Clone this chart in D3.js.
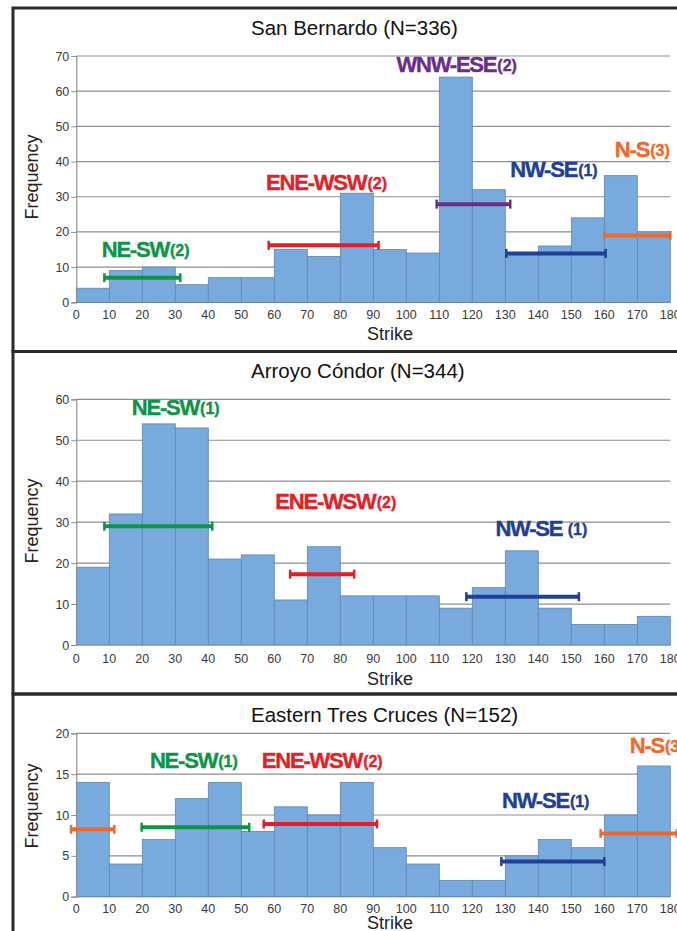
<!DOCTYPE html>
<html>
<head>
<meta charset="utf-8">
<script src="https://cdn.jsdelivr.net/npm/d3@7"></script>
<style>
  body { margin: 0; background: #fff; }
  svg { display: block; font-family: "Liberation Sans", Arial, Helvetica, sans-serif; }
</style>
</head>
<body>
<div id="chart-area"></div>
<script>
// strike bins (10 degree classes)
const binStarts = [0, 10, 20, 30, 40, 50, 60, 70, 80, 90, 100, 110, 120, 130, 140, 150, 160, 170];
const strikeTicks = [0, 10, 20, 30, 40, 50, 60, 70, 80, 90, 100, 110, 120, 130, 140, 150, 160, 170, 180];

// frequencies per bin
const sanBernardo = [4, 9, 10, 5, 7, 7, 15, 13, 31, 15, 14, 64, 32, 14, 16, 24, 36, 20];
const arroyoCondor = [19, 32, 54, 53, 21, 22, 11, 24, 12, 12, 12, 9, 14, 23, 9, 5, 5, 7];
const tresCruces = [14, 4, 7, 12, 14, 8, 11, 10, 14, 6, 4, 2, 2, 5, 7, 6, 10, 16];

// frequency tick labels
const sanBernardoTicks = [0, 10, 20, 30, 40, 50, 60, 70];
const arroyoCondorTicks = [0, 10, 20, 30, 40, 50, 60];
const tresCrucesTicks = [0, 5, 10, 15, 20];

// fracture sets: strike range, frequency level, label anchor (strike, frequency)
const sanBernardoSets = [
  { name: "NE-SW", sub: "(2)", from: 8.5, to: 31.5, freq: 7.0, lx: 7.7, ly: 13 },
  { name: "ENE-WSW", sub: "(2)", from: 58.3, to: 91.6, freq: 16.2, lx: 57.5, ly: 31.9 },
  { name: "WNW-ESE", sub: "(2)", from: 109.2, to: 131.5, freq: 27.9, lx: 97, ly: 65.5 },
  { name: "NW-SE", sub: "(1)", from: 130.3, to: 160.4, freq: 13.9, lx: 131.5, ly: 35.7 },
  { name: "N-S", sub: "(3)", from: 160, to: 180, freq: 19, lx: 163.2, ly: 41.4 }
];
const arroyoCondorSets = [
  { name: "NE-SW", sub: "(1)", from: 8.5, to: 41.2, freq: 29, lx: 16.8, ly: 56.2 },
  { name: "ENE-WSW", sub: "(2)", from: 64.8, to: 84.2, freq: 17.3, lx: 60.3, ly: 33.2 },
  { name: "NW-SE", sub: " (1)", from: 118.2, to: 152.3, freq: 11.8, lx: 127, ly: 26.7 }
];
const tresCrucesSets = [
  { name: "N-S", sub: "", from: -1.6, to: 11.5, freq: 8.25, lx: null, ly: null },
  { name: "NE-SW", sub: "(1)", from: 19.8, to: 52.4, freq: 8.5, lx: 22.3, ly: 15.7 },
  { name: "ENE-WSW", sub: "(2)", from: 56.8, to: 91.1, freq: 8.9, lx: 56.2, ly: 15.7 },
  { name: "NW-SE", sub: "(1)", from: 128.8, to: 160, freq: 4.3, lx: 129, ly: 10.8 },
  { name: "N-S", sub: "(3)", from: 158.9, to: 182, freq: 7.75, lx: 167.7, ly: 17.55 }
];

const setColors = {
  "NE-SW": "#0d9448",
  "ENE-WSW": "#e31f29",
  "WNW-ESE": "#6b2d8b",
  "NW-SE": "#213f95",
  "N-S": "#f0692c"
};

var svg = d3.select("#chart-area")
  .append("svg")
  .attr("width", 677)
  .attr("height", 931);

var x = d3.scaleLinear().domain([0, 180]).range([76.3, 670.3]);

var panels = [
  { title: "San Bernardo (N=336)", counts: sanBernardo, ticks: sanBernardoTicks, sets: sanBernardoSets,
    boxTop: 8, boxBottom: 351.5, plotTop: 56, plotBottom: 302.3, titleY: 35, tickY: 319, strikeY: 340, freqY: 177 },
  { title: "Arroyo Cóndor (N=344)", counts: arroyoCondor, ticks: arroyoCondorTicks, sets: arroyoCondorSets,
    boxTop: 351.5, boxBottom: 694, plotTop: 399.3, plotBottom: 645, titleY: 378, tickY: 663, strikeY: 685, freqY: 521 },
  { title: "Eastern Tres Cruces (N=152)", counts: tresCruces, ticks: tresCrucesTicks, sets: tresCrucesSets,
    boxTop: 694, boxBottom: 960, plotTop: 733.3, plotBottom: 896.7, titleY: 722, tickY: 913, strikeY: 929, freqY: 806 }
];

panels.forEach(p => {
  var g = svg.append("g");
  var y = d3.scaleLinear()
    .domain([0, d3.max(p.ticks)])
    .range([p.plotBottom, p.plotTop]);

  // frame
  g.append("rect")
    .attr("x", 13).attr("y", p.boxTop)
    .attr("width", 700).attr("height", p.boxBottom - p.boxTop)
    .attr("fill", "none")
    .attr("stroke", "#2a2a2a")
    .attr("stroke-width", 3);

  // gridlines
  g.selectAll(".grid")
    .data(p.ticks)
    .enter()
    .append("line")
      .attr("x1", x(0)).attr("x2", x(180))
      .attr("y1", d => y(d)).attr("y2", d => y(d))
      .attr("stroke", "#8f8f8f")
      .attr("stroke-width", 1.2);

  // bars
  g.selectAll(".bar")
    .data(p.counts)
    .enter()
    .append("rect")
      .attr("x", (d, i) => x(binStarts[i]))
      .attr("width", (d, i) => x(binStarts[i] + 10) - x(binStarts[i]))
      .attr("y", d => y(d))
      .attr("height", d => y(0) - y(d))
      .attr("fill", "#79aadd")
      .attr("stroke", "#5f86b0")
      .attr("stroke-width", 0.8);

  // y axis
  var yAxis = g.append("g")
    .attr("transform", `translate(${x(0)},0)`)
    .call(d3.axisLeft(y).tickValues(p.ticks).tickSize(5).tickPadding(2));
  yAxis.select(".domain").attr("stroke", "#8f8f8f").attr("stroke-width", 1.2);
  yAxis.selectAll(".tick line").attr("stroke", "#8f8f8f");
  yAxis.selectAll("text")
    .attr("font-size", 12.5)
    .attr("fill", "#3a3a3a")
    .attr("font-family", "Liberation Sans, Arial, sans-serif");

  // x tick labels
  g.selectAll(".xlab")
    .data(strikeTicks)
    .enter()
    .append("text")
      .attr("x", d => x(d))
      .attr("y", p.tickY)
      .attr("text-anchor", "middle")
      .attr("font-size", 12.5)
      .attr("fill", "#3a3a3a")
      .text(d => d);

  // titles
  g.append("text")
    .attr("x", 251).attr("y", p.titleY)
    .attr("font-size", 20.5)
    .attr("fill", "#111")
    .text(p.title);

  g.append("text")
    .attr("x", 390).attr("y", p.strikeY)
    .attr("text-anchor", "middle")
    .attr("font-size", 18)
    .attr("fill", "#222")
    .text("Strike");

  g.append("text")
    .attr("transform", `translate(38,${p.freqY}) rotate(-90)`)
    .attr("text-anchor", "middle")
    .attr("font-size", 18)
    .attr("fill", "#222")
    .text("Frequency");

  // range bars of the fracture sets
  var bars = g.selectAll(".set")
    .data(p.sets)
    .enter()
    .append("g")
      .attr("stroke", d => setColors[d.name]);

  bars.append("line")
    .attr("x1", d => x(d.from)).attr("x2", d => x(d.to))
    .attr("y1", d => y(d.freq)).attr("y2", d => y(d.freq))
    .attr("stroke-width", 4);
  bars.append("line")
    .attr("x1", d => x(d.from)).attr("x2", d => x(d.from))
    .attr("y1", d => y(d.freq) - 4.5).attr("y2", d => y(d.freq) + 4.5)
    .attr("stroke-width", 2.5);
  bars.append("line")
    .attr("x1", d => x(d.to)).attr("x2", d => x(d.to))
    .attr("y1", d => y(d.freq) - 4.5).attr("y2", d => y(d.freq) + 4.5)
    .attr("stroke-width", 2.5);

  // set labels
  var labels = g.selectAll(".setlab")
    .data(p.sets.filter(d => d.lx !== null))
    .enter()
    .append("text")
      .attr("x", d => x(d.lx))
      .attr("y", d => y(d.ly))
      .attr("fill", d => setColors[d.name])
      .attr("stroke", d => setColors[d.name])
      .attr("stroke-width", 0.4)
      .attr("font-weight", "bold");
  labels.append("tspan")
    .attr("font-size", 22)
    .attr("letter-spacing", -1.2)
    .text(d => d.name);
  labels.append("tspan")
    .attr("font-size", 16)
    .attr("dx", 1)
    .attr("dy", -1)
    .text(d => d.sub);
});
</script>
</body>
</html>
